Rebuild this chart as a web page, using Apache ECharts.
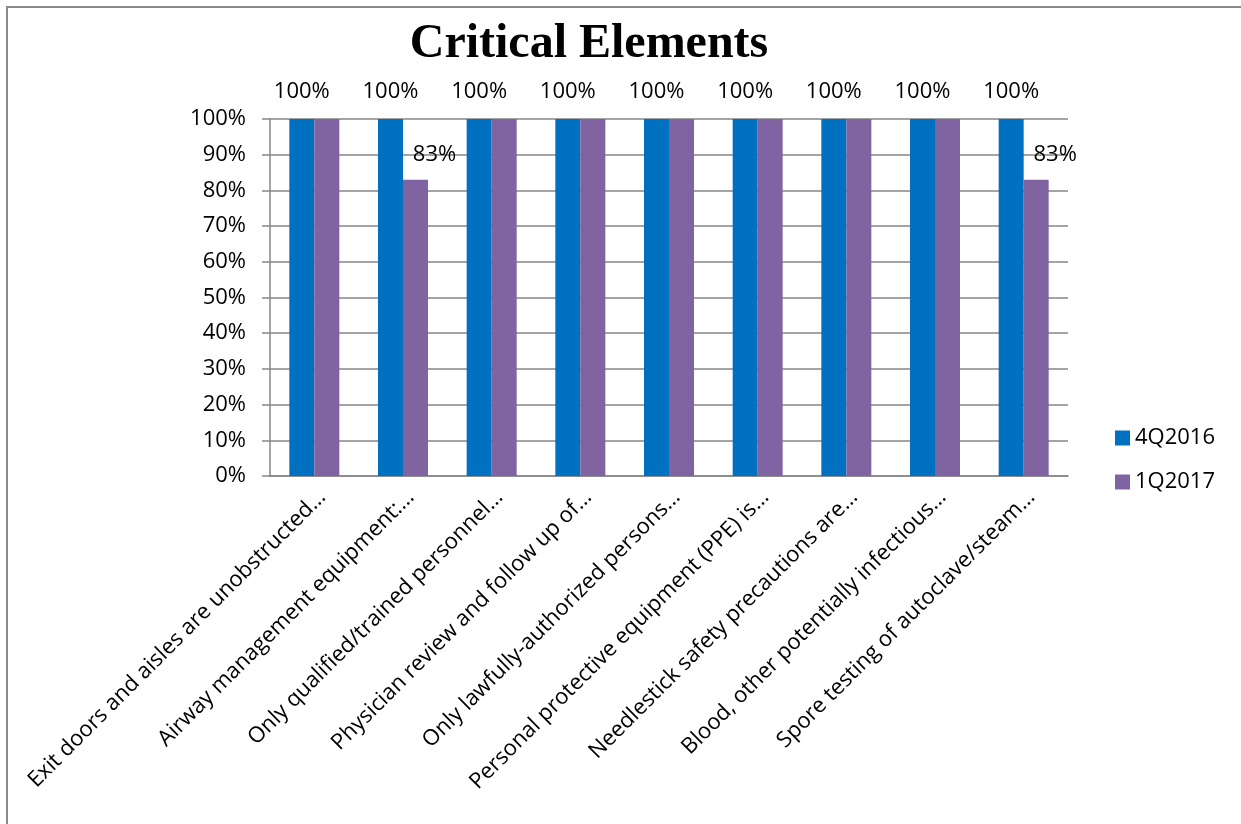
<!DOCTYPE html>
<html>
<head>
<meta charset="utf-8">
<script src="https://cdn.jsdelivr.net/npm/echarts@6/dist/echarts.min.js"></script>
<style>
  html, body { margin: 0; padding: 0; background: #fff; }
  #chart { width: 1241px; height: 824px; }
</style>
</head>
<body>
<div id="chart"></div>
<script>
const categories = [
  'Exit doors and aisles are unobstructed…',
  'Airway management equipment:…',
  'Only qualified/trained personnel…',
  'Physician review and follow up of…',
  'Only lawfully-authorized persons…',
  'Personal protective equipment (PPE) is…',
  'Needlestick safety precautions are…',
  'Blood, other potentially infectious…',
  'Spore testing of autoclave/steam…'
]
const q4_2016 = [100, 100, 100, 100, 100, 100, 100, 100, 100]
const q1_2017 = [100, 83, 100, 100, 100, 100, 100, 100, 83]
const yTicks = [0, 10, 20, 30, 40, 50, 60, 70, 80, 90, 100]

const font = '"Open Sans", Lato, sans-serif'
const gray = '#868686'

const chart = echarts.init(document.getElementById('chart'))
chart.setOption({
  animation: false,
  backgroundColor: '#fff',
  title: {
    text: 'Critical Elements',
    left: 584,
    top: 16,
    textAlign: 'center',
    textStyle: { fontFamily: '"Liberation Serif", serif', fontWeight: 'bold', fontSize: 48, color: '#000' }
  },
  graphic: [{
    type: 'rect',
    shape: { x: 7, y: 7, width: 1300, height: 900 },
    style: { fill: 'none', stroke: '#8a8a8a', lineWidth: 2 },
    silent: true
  }],
  legend: {
    orient: 'vertical',
    left: 1110,
    top: 422,
    itemWidth: 15,
    itemHeight: 15,
    itemGap: 22,
    icon: 'rect',
    textStyle: { fontFamily: font, fontSize: 22, color: '#000' },
    data: ['4Q2016', '1Q2017']
  },
  grid: { left: 270, right: 173, top: 119, bottom: 348 },
  xAxis: {
    type: 'category',
    data: categories,
    axisLine: { lineStyle: { color: gray, width: 1.5 } },
    axisTick: { length: 8, lineStyle: { color: gray, width: 1.5 } },
    axisLabel: {
      rotate: 45, interval: 0, margin: 10, verticalAlign: 'top',
      fontFamily: font, fontSize: 22, color: '#000'
    }
  },
  yAxis: {
    type: 'value',
    min: yTicks[0],
    max: yTicks[yTicks.length - 1],
    interval: 10,
    axisLine: { show: true, lineStyle: { color: gray, width: 1.5 } },
    axisTick: { show: true, length: 8, lineStyle: { color: gray, width: 1.5 } },
    splitLine: { lineStyle: { color: gray, width: 1.5 } },
    axisLabel: { formatter: '{value}%', margin: 24, fontFamily: font, fontSize: 22, color: '#000' }
  },
  series: [
    {
      name: '4Q2016',
      type: 'bar',
      data: q4_2016,
      barWidth: 25,
      barGap: '0%',
      itemStyle: { color: '#0070C0' },
      label: {
        show: true,
        position: 'top',
        distance: 16,
        formatter: '{c}%',
        fontFamily: font, fontSize: 22, color: '#000'
      }
    },
    {
      name: '1Q2017',
      type: 'bar',
      data: q1_2017,
      barWidth: 25,
      itemStyle: { color: '#8064A2' },
      label: {
        show: true,
        position: 'top',
        distance: 14,
        offset: [19, 0],
        formatter: p => (p.value < 100 ? p.value + '%' : ''),
        fontFamily: font, fontSize: 22, color: '#000'
      }
    }
  ]
})
</script>
</body>
</html>
